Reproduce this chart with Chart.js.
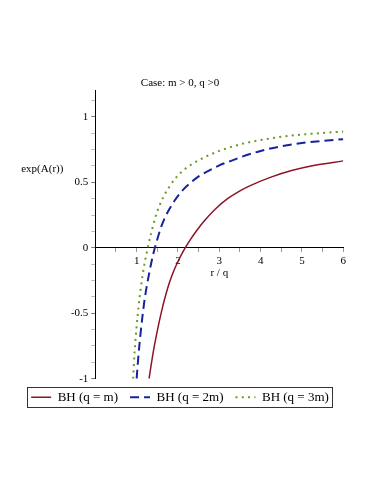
<!DOCTYPE html>
<html>
<head>
<meta charset="utf-8">
<script src="https://cdn.jsdelivr.net/npm/chart.js@4/dist/chart.umd.min.js"></script>
<style>
  body { margin: 0; background: #fff; }
  .chart { width: 374px; height: 484px; }
</style>
</head>
<body>
<div class="chart"><canvas id="plot"></canvas></div>
<script>
// values (r / q, exp(A(r)))
const rQm = [1.30, 1.40, 1.50, 1.60, 1.70, 1.80, 1.90, 2.00, 2.10, 2.20, 2.30, 2.45, 2.65, 2.90, 3.20, 3.50, 3.75, 4.25, 4.75, 5.25, 6.00]
const fQm = [-1.0, -0.80, -0.635, -0.49, -0.365, -0.26, -0.175, -0.105, -0.043, 0.012, 0.062, 0.13, 0.21, 0.295, 0.375, 0.435, 0.475, 0.54, 0.59, 0.627, 0.664]

const rQ2m = [1.00, 1.05, 1.10, 1.15, 1.20, 1.30, 1.40, 1.50, 1.60, 1.70, 1.80, 1.95, 2.10, 2.30, 2.50, 2.75, 3.00, 3.25, 3.50, 4.00, 4.50, 5.00, 5.50, 6.00]
const fQ2m = [-1.0, -0.80, -0.64, -0.50, -0.38, -0.20, -0.05, 0.065, 0.165, 0.24, 0.30, 0.375, 0.435, 0.495, 0.545, 0.59, 0.63, 0.66, 0.69, 0.74, 0.775, 0.80, 0.817, 0.83]

const rQ3m = [0.915, 0.95, 1.00, 1.05, 1.10, 1.15, 1.20, 1.27, 1.35, 1.45, 1.55, 1.65, 1.80, 1.95, 2.15, 2.40, 2.70, 3.00, 3.50, 4.00, 4.50, 5.00, 5.50, 6.00]
const fQ3m = [-1.0, -0.80, -0.60, -0.44, -0.31, -0.20, -0.105, 0.0, 0.11, 0.23, 0.32, 0.39, 0.47, 0.535, 0.597, 0.65, 0.70, 0.74, 0.79, 0.823, 0.848, 0.865, 0.877, 0.888]

const seriesNames = ['BH (q = m)', 'BH (q = 2m)', 'BH (q = 3m)']
const xTicks = [1, 2, 3, 4, 5, 6]
const yTicks = [-1, -0.5, 0, 0.5, 1]
const title = 'Case: m > 0, q >0'
const xTitle = 'r / q'
const yTitle = 'exp(A(r))'

const serif = 'Liberation Serif'

function pts(rs, fs) {
  return rs.map((r, i) => ({ x: r, y: fs[i] }))
}

const isMult = (v, s) => Math.abs(v / s - Math.round(v / s)) < 1e-6

// axis titles (horizontal, maple style) + frame round the legend
const extras = {
  id: 'extras',
  afterDraw(chart) {
    const { ctx, chartArea, scales } = chart
    ctx.save()
    ctx.font = '11px "' + serif + '"'
    ctx.fillStyle = '#000'
    ctx.textAlign = 'center'
    ctx.textBaseline = 'middle'
    ctx.fillText(yTitle, chartArea.left - 53, scales.y.getPixelForValue(0.6))
    ctx.fillText(xTitle, (chartArea.left + chartArea.right) / 2, scales.y.getPixelForValue(0) + 25)

    const hb = chart.legend.legendHitBoxes
    if (hb && hb.length) {
      let l = Infinity, r = -Infinity, t = Infinity, b = -Infinity
      hb.forEach(h => {
        l = Math.min(l, h.left)
        r = Math.max(r, h.left + h.width)
        t = Math.min(t, h.top)
        b = Math.max(b, h.top + h.height)
      })
      ctx.strokeStyle = '#333'
      ctx.lineWidth = 1
      ctx.strokeRect(Math.round(l - 4) + 0.5, Math.round(t - 4) + 0.5, Math.round(r - l + 7), Math.round(b - t + 7))
    }
    ctx.restore()
  },
}

new Chart(document.getElementById('plot'), {
  type: 'line',
  data: {
    datasets: [
      {
        label: seriesNames[0],
        data: pts(rQm, fQm),
        borderColor: '#8c1427',
        backgroundColor: '#8c1427',
        borderWidth: 1.5,
      },
      {
        label: seriesNames[1],
        data: pts(rQ2m, fQ2m),
        borderColor: '#16239a',
        backgroundColor: '#16239a',
        borderWidth: 2,
        borderDash: [9, 5],
      },
      {
        label: seriesNames[2],
        data: pts(rQ3m, fQ3m),
        borderColor: '#6b9a22',
        backgroundColor: '#6b9a22',
        borderWidth: 2,
        borderDash: [2, 4.3],
      },
    ],
  },
  options: {
    responsive: true,
    maintainAspectRatio: false,
    animation: false,
    elements: {
      point: { radius: 0 },
      line: { cubicInterpolationMode: 'monotone', fill: false },
    },
    layout: {
      padding: { left: 0, right: 14, top: 76.4, bottom: 70.3 },
    },
    scales: {
      x: {
        type: 'linear',
        position: { y: 0 },
        min: 0,
        max: 6,
        afterFit(scale) { scale.height = 0 },
        afterBuildTicks(scale) {
          const t = []
          for (let v = 0.5; v <= 6.001; v += 0.5) t.push({ value: v })
          scale.ticks = t
        },
        border: { color: '#000', width: 1 },
        grid: { drawOnChartArea: false, tickLength: 4, tickColor: '#999' },
        ticks: {
          autoSkip: false,
          maxRotation: 0,
          padding: 3,
          color: '#000',
          font: { family: serif, size: 11 },
          callback: v => (xTicks.some(t => Math.abs(t - v) < 1e-6) ? String(Math.round(v)) : ''),
        },
      },
      y: {
        type: 'linear',
        position: 'left',
        min: -1,
        max: 1.2,
        afterFit(scale) { scale.width = 95.3 },
        afterBuildTicks(scale) {
          const t = []
          for (let k = -8; k <= 9; k++) t.push({ value: k * 0.125 })
          scale.ticks = t
        },
        border: { color: '#000', width: 1 },
        grid: {
          drawOnChartArea: false,
          tickLength: 4,
          tickColor: c => (isMult(c.tick.value, 0.5) ? '#777' : '#bbb'),
        },
        ticks: {
          autoSkip: false,
          padding: 3,
          color: '#000',
          font: { family: serif, size: 11 },
          callback: v => (yTicks.some(t => Math.abs(t - v) < 1e-6) ? String(Math.round(v * 10) / 10) : ''),
        },
      },
      // empty axis, only keeps the right margin of the plot
      spacer: {
        type: 'linear',
        position: 'right',
        afterFit(scale) { scale.width = 16.7 },
        grid: { display: false },
        border: { display: false },
        ticks: { display: false },
      },
    },
    plugins: {
      title: {
        display: true,
        text: title,
        color: '#000',
        font: { family: serif, size: 11, weight: 'normal' },
        padding: { top: 0, bottom: 1.1 },
      },
      legend: {
        position: 'bottom',
        labels: {
          color: '#000',
          usePointStyle: true,
          pointStyle: 'line',
          pointStyleWidth: 20,
          padding: 12,
          font: { family: serif, size: 13 },
          generateLabels(chart) {
            const items = Chart.defaults.plugins.legend.labels.generateLabels(chart)
            items.forEach(it => {
              const ds = chart.data.datasets[it.datasetIndex]
              it.lineDash = ds.borderDash || []
              it.lineWidth = ds.borderWidth
              it.strokeStyle = ds.borderColor
            })
            return items
          },
        },
      },
      tooltip: { enabled: false },
    },
  },
  plugins: [extras],
})
</script>
</body>
</html>
